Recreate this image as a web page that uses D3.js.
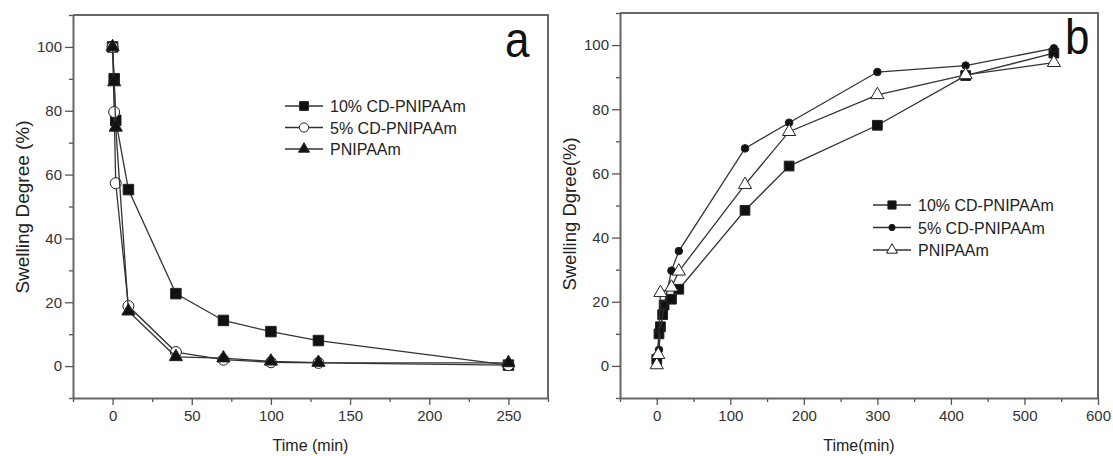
<!DOCTYPE html>
<meta charset="utf-8">
<style>
body { margin: 0; background: #fff; font-family: Arial, "Liberation Sans", Helvetica, sans-serif; }
.tick text { fill: #333; font-size: 15px; font-family: Arial, "Liberation Sans", sans-serif; }
.tick line { stroke: #555; stroke-width: 1.3px; }
.domain { stroke: #666; stroke-width: 2px; }
.series { fill: none; stroke: #333; stroke-width: 1.3px; }
.title { fill: #222; font-size: 16px; }
.legend { fill: #222; font-size: 16px; }
</style>
<body>
<script src="https://d3js.org/d3.v7.min.js"></script>
<script>

// panel a: deswelling
var aTime10 = [0, 1, 2, 10, 40, 70, 100, 130, 250];
var aVal10  = [100, 90, 77, 55.3, 22.7, 14.3, 10.8, 8, 0.3];
var aTime5  = [0, 1, 2, 10, 40, 70, 100, 130, 250];
var aVal5   = [100, 79.6, 57.3, 18.8, 4.4, 2, 1.2, 1, 0.3];
var aTimeP  = [0, 1, 2, 10, 40, 70, 100, 130, 250];
var aValP   = [100, 89, 74.8, 17.2, 2.9, 2.5, 1.5, 1.1, 1];

// panel b: swelling
var bTime10 = [0, 3, 5, 8, 10, 20, 30, 120, 180, 300, 420, 540];
var bVal10  = [2, 10, 12.2, 16, 19, 20.8, 23.9, 48.5, 62.3, 75, 90.5, 97.5];
var bTime5  = [0, 3, 5, 10, 20, 30, 120, 180, 300, 420, 540];
var bVal5   = [3, 5, 11, 19, 29.7, 35.8, 67.8, 75.8, 91.6, 93.6, 99];
var bTimeP  = [0, 2, 5, 20, 30, 120, 180, 300, 420, 540];
var bValP   = [0.3, 3.5, 22.8, 24.5, 29.5, 56.5, 73, 84.5, 90.7, 94.5];

var legendA = ["10% CD-PNIPAAm", "5% CD-PNIPAAm", "PNIPAAm"];
var legendB = ["10% CD-PNIPAAm", "5% CD-PNIPAAm", "PNIPAAm"];

var svg = d3.select("body").append("svg")
    .attr("width", 1113)
    .attr("height", 456);

function zip(t, v) { return t.map(function(d, i) { return {t: d, v: v[i]}; }); }

// draws one panel
function panel(opt) {
  var x = d3.scaleLinear().domain(opt.xDomain).range([opt.left, opt.right]);
  var y = d3.scaleLinear().domain([-10, 110]).range([opt.bottom, opt.top]);
  var g = svg.append("g");

  // frame (top, right)
  g.append("path")
      .attr("d", "M" + opt.left + "," + opt.top + "H" + opt.right + "V" + opt.bottom)
      .style("fill", "none").style("stroke", "#666").style("stroke-width", 2);

  // minor ticks
  g.append("g")
      .attr("transform", "translate(0," + opt.bottom + ")")
      .call(d3.axisBottom(x).tickValues(opt.xMinor).tickSize(4).tickFormat(""))
      .select(".domain").remove();
  g.append("g")
      .attr("transform", "translate(" + opt.left + ",0)")
      .call(d3.axisLeft(y).tickValues([-10, 10, 30, 50, 70, 90, 110]).tickSize(4).tickFormat(""))
      .select(".domain").remove();

  // major ticks
  g.append("g")
      .attr("transform", "translate(0," + opt.bottom + ")")
      .call(d3.axisBottom(x).tickValues(opt.xMajor).tickSize(7).tickPadding(5).tickSizeOuter(0));
  g.append("g")
      .attr("transform", "translate(" + opt.left + ",0)")
      .call(d3.axisLeft(y).tickValues([0, 20, 40, 60, 80, 100]).tickSize(8).tickPadding(3).tickSizeOuter(0));

  // axis titles
  g.append("text").attr("class", "title")
      .attr("x", (opt.left + opt.right) / 2).attr("y", 451)
      .style("text-anchor", "middle")
      .text(opt.xTitle);
  g.append("text").attr("class", "title")
      .attr("transform", "translate(" + opt.yTitleX + "," + opt.yTitleY + ") rotate(-90)")
      .style("text-anchor", "middle")
      .style("font-size", opt.yTitleSize + "px")
      .text(opt.yTitle);

  // panel letter
  g.append("text")
      .attr("transform", "translate(" + opt.letterX + "," + opt.letterY + ") scale(1,1.15)")
      .style("font-size", "44px").style("fill", "#111")
      .text(opt.letter);

  var line = d3.line().x(function(d) { return x(d.t); }).y(function(d) { return y(d.v); });

  opt.series.forEach(function(s, i) {
    var data = zip(s.t, s.v);
    g.append("path").datum(data).attr("class", "series").attr("d", line);
    g.selectAll(null).data(data).enter().append("path")
        .attr("transform", function(d) { return "translate(" + x(d.t) + "," + y(d.v) + ")"; })
        .attr("d", d3.symbol().type(s.sym).size(s.size))
        .style("fill", s.fill).style("stroke", "#222").style("stroke-width", 1);

    // legend row
    var ly = opt.legY + i * opt.legStep;
    g.append("line")
        .attr("x1", opt.legX).attr("x2", opt.legX + 38)
        .attr("y1", ly).attr("y2", ly)
        .style("stroke", "#333").style("stroke-width", 1.3);
    g.append("path")
        .attr("transform", "translate(" + (opt.legX + 19) + "," + ly + ")")
        .attr("d", d3.symbol().type(s.sym).size(s.size * 0.7))
        .style("fill", s.fill).style("stroke", "#222").style("stroke-width", 1);
    g.append("text").attr("class", "legend")
        .attr("x", opt.legX + 45).attr("y", ly + 6)
        .text(opt.legend[i]);
  });
}

panel({
  left: 73, right: 548, top: 15, bottom: 398,
  xDomain: [-25, 275],
  xMajor: [0, 50, 100, 150, 200, 250],
  xMinor: [-25, 25, 75, 125, 175, 225, 275],
  xTitle: "Time (min)",
  yTitle: "Swelling Degree (%)", yTitleX: 29, yTitleY: 207, yTitleSize: 19,
  letter: "a", letterX: 505, letterY: 57,
  legX: 285, legY: 106, legStep: 21.5, legend: legendA,
  series: [
    {t: aTime10, v: aVal10, sym: d3.symbolSquare, size: 110, fill: "#111"},
    {t: aTime5,  v: aVal5,  sym: d3.symbolCircle, size: 95,  fill: "#fff"},
    {t: aTimeP,  v: aValP,  sym: d3.symbolTriangle, size: 75, fill: "#111"}
  ]
});

panel({
  left: 620, right: 1098, top: 13, bottom: 398,
  xDomain: [-50, 600],
  xMajor: [0, 100, 200, 300, 400, 500, 600],
  xMinor: [-50, 50, 150, 250, 350, 450, 550],
  xTitle: "Time(min)",
  yTitle: "Swelling Dgree(%)", yTitleX: 576, yTitleY: 214, yTitleSize: 18.5,
  letter: "b", letterX: 1065, letterY: 54,
  legX: 873, legY: 205, legStep: 22.5, legend: legendB,
  series: [
    {t: bTime10, v: bVal10, sym: d3.symbolSquare, size: 95, fill: "#111"},
    {t: bTime5,  v: bVal5,  sym: d3.symbolCircle, size: 45, fill: "#111"},
    {t: bTimeP,  v: bValP,  sym: d3.symbolTriangle, size: 75, fill: "#fff"}
  ]
});

</script>
</body>
